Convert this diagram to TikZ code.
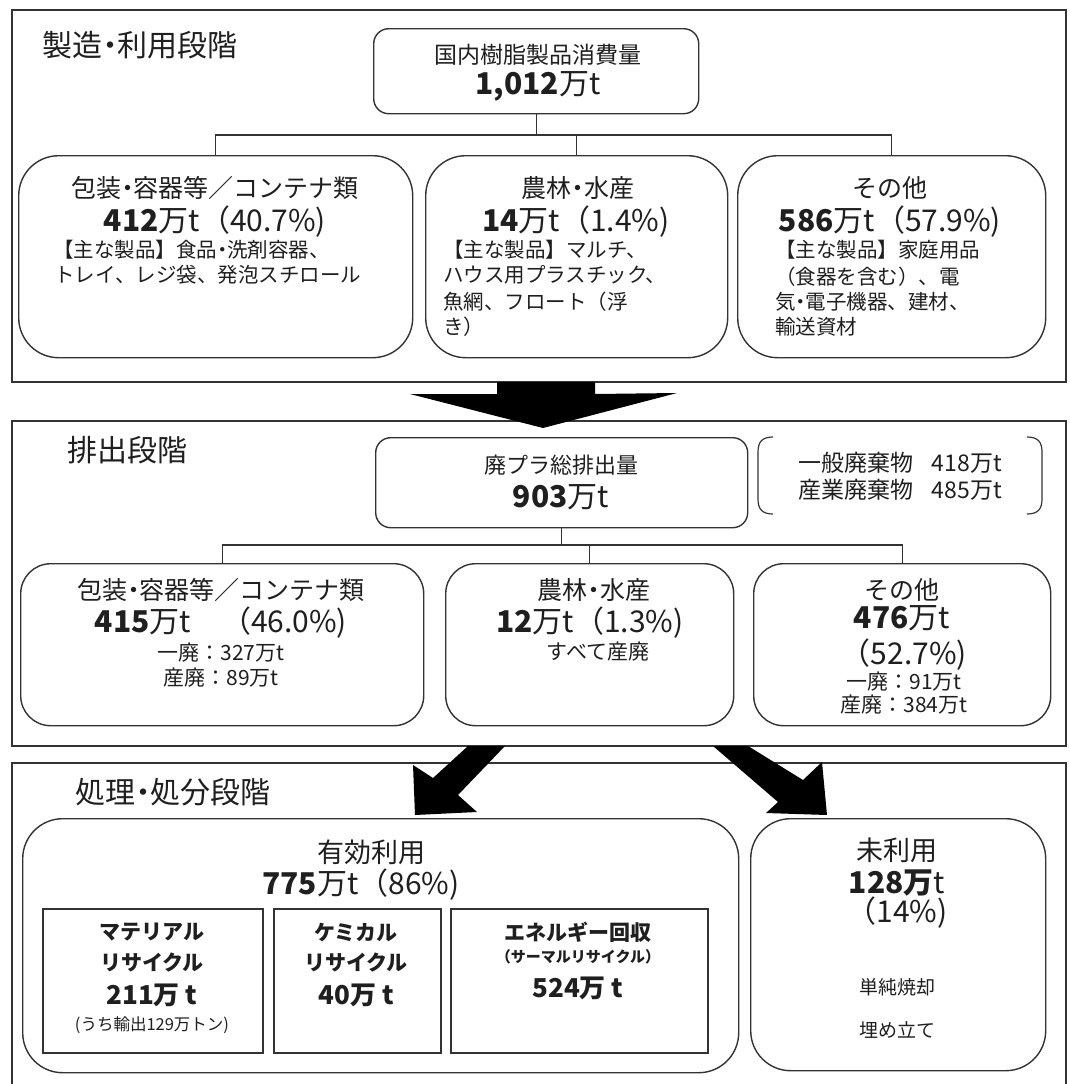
\documentclass[tikz,border=0pt]{standalone}
\usepackage{fontspec}
\setmainfont{Noto Sans CJK JP}
\newcommand\fz[1]{\fontsize{#1}{#1}\selectfont}
\newcommand\nd{\makebox[0.5em][c]{・}}
\tikzset{
  sec/.style={draw=black!80, line width=1.5pt},
  ln/.style={draw=black!80, line width=1.4pt},
  box/.style={draw=black!80, line width=1.4pt, anchor=north west, inner sep=0pt},
  rbig/.style={box, rounded corners=40pt},
  rmid/.style={box, rounded corners=30pt},
  rsml/.style={box, rounded corners=15pt},
  sq/.style={box, line width=1.6pt},
  txt/.style={inner sep=0pt, text=black!88},
  ttl/.style={txt, font=\fz{30}},
  hd/.style={txt, font=\fz{25}},
  amt/.style={txt, font=\fz{30}},
  det/.style={txt, font=\fz{20.5}, anchor=west},
  sm/.style={txt, font=\fz{21}},
  bx/.style={txt, font=\bfseries\fz{21}},
  bxa/.style={txt, font=\bfseries\fz{26}},
  arr/.style={fill=black},
}
\begin{document}
\begin{tikzpicture}[x=1pt,y=-1pt]
\useasboundingbox (0,0) rectangle (1070,1084);
\clip (0,0) rectangle (1070,1084);
\fill[white] (0,0) rectangle (1070,1084);

% ---------- Section 1 ----------
\draw[sec] (12,10) rectangle (1066,382);
\node[ttl] (t1) at (140,45) {製造\nd 利用段階};
\node[rsml, minimum width=325pt, minimum height=85pt] (tot) at (373,28) {};
\node[txt, font=\fz{23}] (totl) at (538,55) {国内樹脂製品消費量};
\node[amt] (totv) at (538,86) {{\bfseries 1,012}万t};

\node[rbig, minimum width=394pt, minimum height=202pt] (p1) at (18,155) {};
\node[rbig, minimum width=302pt, minimum height=202pt] (p2) at (425,155) {};
\node[rbig, minimum width=308pt, minimum height=202pt] (p3) at (737,155) {};
\coordinate (bus1) at (0,135);
\draw[ln] (tot.south) -- (tot.south |- bus1);
\draw[ln] (p1.north) -- (p1.north |- bus1) -- (p3.north |- bus1) -- (p3.north);
\draw[ln] (p2.north) -- (p2.north |- bus1);

\node[hd] (p1h) at (215,188) {包装\nd 容器等／コンテナ類};
\node[amt] (p1a) at (215,222) {{\bfseries 412}万t（40.7\%)};
\node[det] (p1d1) at (53,250) {【主な製品】食品\nd 洗剤容器、};
\node[det] (p1d2) at (54,275) {トレイ、レジ袋、発泡スチロール};

\node[hd] (p2h) at (578,188) {農林\nd 水産};
\node[amt] (p2a) at (576,222) {{\bfseries 14}万t（1.4\%)};
\node[det] (p2d1) at (443,250) {【主な製品】マルチ、};
\node[det] (p2d2) at (443,275) {ハウス用プラスチック、};
\node[det] (p2d3) at (443,302) {魚網、フロート（浮};
\node[det] (p2d4) at (443,327) {き）};

\node[hd] (p3h) at (890,188) {その他};
\node[amt] (p3a) at (890,222) {{\bfseries 586}万t（57.9\%)};
\node[det] (p3d1) at (775,250) {【主な製品】家庭用品};
\node[det] (p3d2) at (775,277) {（食器を含む）、電};
\node[det] (p3d3) at (775,302) {気\nd 電子機器、建材、};
\node[det] (p3d4) at (775,327) {輸送資材};

% ---------- Section 2 ----------
\draw[sec] (12,421) rectangle (1066,746);
\node[ttl] (t2) at (127,450) {排出段階};
\node[rsml, minimum width=372pt, minimum height=90pt] (tot2) at (375,437) {};
\node[txt, font=\fz{22}] (tot2l) at (561,465) {廃プラ総排出量};
\node[amt] (tot2v) at (561,497) {{\bfseries 903}万t};

% bracket
\node[inner sep=0pt, minimum width=286pt, minimum height=77pt, anchor=north west] (br) at (757,437) {};
\draw[ln, line width=1.2pt] (773,437) .. controls (762,437) and (758,442) .. (758,452) -- (758,499) .. controls (758,509) and (762,514) .. (773,514);
\draw[ln, line width=1.2pt] (1027,437) .. controls (1038,437) and (1042,442) .. (1042,452) -- (1042,499) .. controls (1042,509) and (1038,514) .. (1027,514);
\node[txt, font=\fz{23}] (br1) at (900,463) {一般廃棄物\hspace{0.8em}418万t};
\node[txt, font=\fz{23}] (br2) at (900,490) {産業廃棄物\hspace{0.8em}485万t};

\node[rmid, minimum width=403pt, minimum height=162pt] (q1) at (20,563) {};
\node[rmid, minimum width=288pt, minimum height=162pt] (q2) at (445,563) {};
\node[rmid, minimum width=297pt, minimum height=162pt] (q3) at (753,563) {};
\coordinate (bus2) at (0,545);
\draw[ln] (tot2.south) -- (tot2.south |- bus2);
\draw[ln] (q1.north) -- (q1.north |- bus2) -- (q3.north |- bus2) -- (q3.north);
\draw[ln] (q2.north) -- (q2.north |- bus2);

\node[hd] (q1h) at (221,590) {包装\nd 容器等／コンテナ類};
\node[amt] (q1a) at (221,623) {{\bfseries 415}万t　（46.0\%)};
\node[sm] (q1b) at (221,653) {一廃：327万t};
\node[sm] (q1c) at (221,678) {産廃：89万t};

\node[hd] (q2h) at (594,590) {農林\nd 水産};
\node[amt] (q2a) at (590,623) {{\bfseries 12}万t（1.3\%)};
\node[txt, font=\fz{21}] (q2b) at (598,652) {すべて産廃};

\node[hd] (q3h) at (902,590) {その他};
\node[amt] (q3a) at (902,618) {{\bfseries 476}万t};
\node[amt] (q3b) at (904,655) {（52.7\%)};
\node[sm] (q3c) at (904,682) {一廃：91万t};
\node[sm] (q3d) at (904,705) {産廃：384万t};

% ---------- Section 3 ----------
\draw[sec] (12,763) rectangle (1066,1110);
\node[ttl] (t3) at (173,792) {処理\nd 処分段階};

\node[rbig, minimum width=716pt, minimum height=254pt] (u) at (22,818) {};
\node[rbig, minimum width=295pt, minimum height=252pt] (n) at (750,818) {};
\node[sq, minimum width=220pt, minimum height=144pt] (m1) at (42,908) {};
\node[sq, minimum width=167pt, minimum height=144pt] (m2) at (273,908) {};
\node[sq, minimum width=257pt, minimum height=144pt] (m3) at (450,908) {};

\node[txt, font=\fz{27}] (uh) at (371,852) {有効利用};
\node[amt] (ua) at (361,885) {{\bfseries 775}万t（86\%)};

\node[bx] (m1a) at (152,932) {マテリアル};
\node[bx] (m1b) at (152,962) {リサイクル};
\node[bxa] (m1c) at (152,995) {211万 t};
\node[txt, font=\fz{16.5}] (m1d) at (152,1025) {(うち輸出129万トン)};

\node[bx] (m2a) at (356,932) {ケミカル};
\node[bx] (m2b) at (356,962) {リサイクル};
\node[bxa] (m2c) at (356,995) {40万 t};

\node[bx] (m3a) at (578,932) {エネルギー回収};
\node[txt, font=\bfseries\fz{15}] (m3b) at (578,957) {（サーマルリサイクル）};
\node[bxa] (m3c) at (578,988) {524万 t};

\node[txt, font=\fz{27}] (nh) at (897,850) {未利用};
\node[amt] (na) at (897,883) {{\bfseries 128万}t};
\node[amt] (nb) at (897,913) {（14\%)};
\node[txt, font=\fz{19}] (nc) at (897,987) {単純焼却};
\node[txt, font=\fz{19}] (nd) at (897,1030) {埋め立て};

% ---------- block arrows ----------
\fill[arr] (497,382) -- (595,382) -- (595,394) -- (677,393) -- (543,428) -- (410,394) -- (497,394) -- cycle;
\fill[arr] (468,746) -- (505,746) -- (458,795) -- (477,812) -- (415,815) -- (413,765) -- (433,778) -- cycle;
\fill[arr] (713,746) -- (748,746) -- (803,780) -- (822,762) -- (827,815) -- (766,813) -- (778,802) -- cycle;
\end{tikzpicture}
\end{document}
